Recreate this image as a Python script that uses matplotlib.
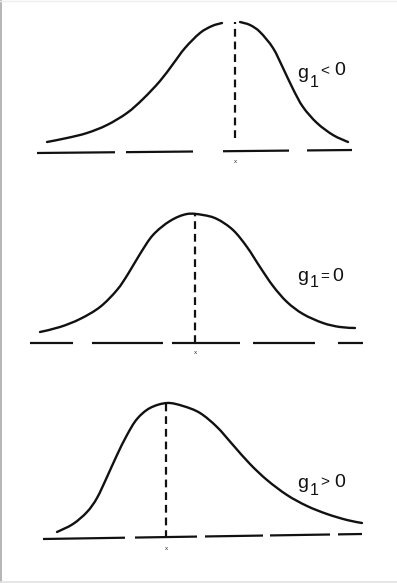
import numpy as np
import matplotlib
matplotlib.use("Agg")
import matplotlib.pyplot as plt
from matplotlib.path import Path
from matplotlib.patches import PathPatch
from matplotlib.lines import Line2D

plt.rcParams['font.family'] = ['Liberation Sans', 'DejaVu Sans']

# ---------------- data (arbitrary chart units; baseline = 0) ----------------
# Panel 1: negative skew (g1 < 0) - curve drawn in two pieces (gap near peak in original)
p1_left_x = [47, 67, 87, 107, 127, 143, 160, 173, 185, 200, 212, 222]
p1_left_y = [10, 14, 19, 27, 39, 53, 71, 88, 104, 119, 126, 129]
p1_right_x = [240, 250, 260, 273, 283, 293, 303, 317, 333, 348]
p1_right_y = [130, 127, 120, 104, 84, 63, 45, 29, 17, 10]

# Panel 2: symmetric (g1 = 0)
p2_x = [40, 60, 80, 100, 117, 128, 140, 153, 170, 187, 203, 217, 233, 247, 260, 273, 287, 303, 323, 340, 355]
p2_y = [11, 16, 24, 36, 53, 69, 89, 108, 122, 129, 128, 124, 113, 96, 76, 57, 41, 29, 20, 16, 15]

# Panel 3: positive skew (g1 > 0)
p3_x = [57, 73, 87, 97, 107, 117, 127, 137, 150, 167, 183, 200, 217, 233, 250, 267, 287, 307, 327, 347, 362]
p3_y = [6, 14, 26, 40, 61, 83, 103, 119, 130, 135, 132, 125, 111, 93, 74, 58, 43, 32, 24, 18, 15]

modes = [235, 195, 166]
mode_tops = [130, 129, 135]
mode_bottoms = [14, 0, 0]

# baseline dash segments (start, end) and baseline tilt (height at left/right ends)
base1 = [(37, 115), (126, 193), (223, 289), (307, 352)]
base2 = [(30, 73), (92, 163), (172, 240), (253, 315), (338, 363)]
base3 = [(43, 125), (135, 197), (205, 263), (270, 330), (338, 362)]
tilt1 = (-1, 2)
tilt2 = (0, 0)
tilt3 = (-1, 4)

labels = [("g", "1", "<", "0"), ("g", "1", "=", "0"), ("g", "1", ">", "0")]

# ---------------- helpers ----------------
def smooth_path(xs, ys):
    pts = np.column_stack([xs, ys]).astype(float)
    verts = [pts[0]]
    codes = [Path.MOVETO]
    n = len(pts)
    for i in range(n - 1):
        p0 = pts[i - 1] if i > 0 else pts[i]
        p1 = pts[i]
        p2 = pts[i + 1]
        p3 = pts[i + 2] if i + 2 < n else pts[i + 1]
        c1 = p1 + (p2 - p0) / 6.0
        c2 = p2 - (p3 - p1) / 6.0
        verts += [c1, c2, p2]
        codes += [Path.CURVE4] * 3
    return Path(verts, codes)


W, H = 397, 583
fig = plt.figure(figsize=(W / 100, H / 100), dpi=100)
fig.patch.set_facecolor('white')

# panel rows in pixels (top, bottom) and baseline pixel row
panels = [(0, 195, 152), (195, 390, 343), (390, 583, 538)]
axes = []
for top, bottom, base in panels:
    ax = fig.add_axes([0, 1 - bottom / H, 1, (bottom - top) / H])
    ax.set_xlim(0, W)
    ax.set_ylim(base - bottom, base - top)
    ax.axis('off')
    axes.append(ax)

LW = 1.7
col = '#111111'

def draw_curve(ax, xs, ys):
    ax.add_patch(PathPatch(smooth_path(xs, ys), fill=False, lw=LW, color=col,
                           capstyle='round', joinstyle='round'))

def draw_base(ax, segs, tilt):
    x0 = segs[0][0]
    x1 = segs[-1][1]
    for a, b in segs:
        ya = tilt[0] + (tilt[1] - tilt[0]) * (a - x0) / (x1 - x0)
        yb = tilt[0] + (tilt[1] - tilt[0]) * (b - x0) / (x1 - x0)
        ax.plot([a, b], [ya, yb], color=col, lw=1.6, solid_capstyle='butt')

draw_curve(axes[0], p1_left_x, p1_left_y)
draw_curve(axes[0], p1_right_x, p1_right_y)
draw_curve(axes[1], p2_x, p2_y)
draw_curve(axes[2], p3_x, p3_y)

for ax, segs, tilt in zip(axes, [base1, base2, base3], [tilt1, tilt2, tilt3]):
    draw_base(ax, segs, tilt)

for ax, m, t, b in zip(axes, modes, mode_tops, mode_bottoms):
    ax.plot([m, m], [b, t], color=col, lw=1.6, dashes=(3.5, 2.2))
    ax.text(m, -10, "x", fontsize=4.5, ha='center', va='center', color='#333333')

# labels: positions in each panel's chart units
label_pos = [
    ((297, 74), (309.5, 65), (320, 77), (334, 77)),
    ((297, 62), (309.5, 56), (320, 62), (332, 62)),
    ((297, 50), (309.5, 43), (320, 52), (334, 51)),
]
for ax, lab, pos in zip(axes, labels, label_pos):
    g, sub, op, zero = lab
    ax.text(pos[0][0], pos[0][1], g, fontsize=14, ha='left', va='baseline', color=col)
    ax.text(pos[1][0], pos[1][1], sub, fontsize=11.5, ha='left', va='baseline', color=col)
    ax.text(pos[2][0], pos[2][1], op, fontsize=11, ha='left', va='baseline', color=col)
    ax.text(pos[3][0], pos[3][1], zero, fontsize=14, ha='left', va='baseline', color=col)

# faint scan frame
fig.add_artist(Line2D([1 / W, 1 / W], [0, 1], transform=fig.transFigure, color='#b5b5b5', lw=1.4))
fig.add_artist(Line2D([0, 1], [1.5 / H, 1.5 / H], transform=fig.transFigure, color='#e2e2e2', lw=1.2))
fig.add_artist(Line2D([0, 1], [1 - 1 / H, 1 - 1 / H], transform=fig.transFigure, color='#eeeeee', lw=1.0))

fig.savefig('out.png', dpi=100, facecolor='white')
